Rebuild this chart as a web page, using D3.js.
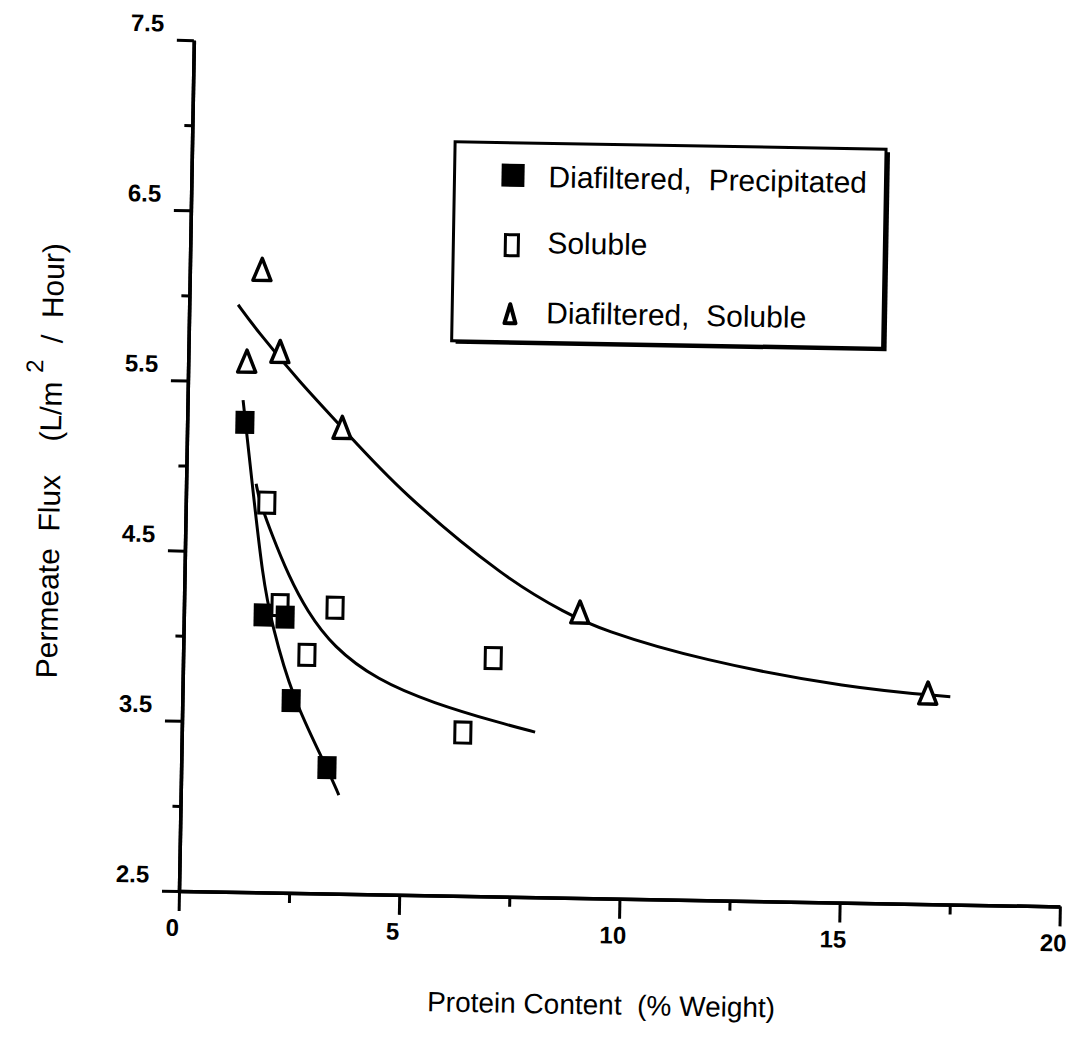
<!DOCTYPE html>
<html>
<head>
<meta charset="utf-8">
<script src="https://cdn.jsdelivr.net/npm/d3@7"></script>
<style>
  body { margin: 0; background: #fff; }
  text { font-family: "Liberation Sans", Arial, sans-serif; fill: #000; }
</style>
</head>
<body>
<div id="chart"></div>
<script>
// data
let precipX = [1.31, 1.80, 2.30, 2.47, 3.31];
let precipY = [5.26, 4.13, 4.12, 3.63, 3.24];
let solubleX = [1.84, 2.18, 2.81, 3.43, 6.38, 7.04];
let solubleY = [4.79, 4.19, 3.90, 4.18, 3.46, 3.90];
let diaSolX = [1.33, 1.64, 2.08, 3.52, 8.99, 16.92];
let diaSolY = [5.62, 6.16, 5.68, 5.24, 4.18, 3.74];

// hand drawn fit curves
let precipFitX = [1.26, 1.49, 1.78, 2.00, 2.49, 3.31, 3.59];
let precipFitY = [5.39, 4.92, 4.34, 4.08, 3.65, 3.24, 3.08];
let solubleFitX = [1.59, 1.66, 1.97, 2.37, 2.79, 3.40, 4.41, 5.69, 7.22, 8.02];
let solubleFitY = [4.90, 4.81, 4.60, 4.36, 4.16, 3.95, 3.76, 3.63, 3.52, 3.47];
let diaSolFitX = [1.11, 1.55, 2.54, 3.52, 4.86, 7.32, 8.70, 9.45, 11.74, 15.15, 17.43];
let diaSolFitY = [5.95, 5.80, 5.50, 5.24, 4.87, 4.36, 4.17, 4.08, 3.91, 3.76, 3.72];

let xMajor = [0, 5, 10, 15, 20];
let xMinor = [2.5, 7.5, 12.5, 17.5];
let yMajor = [2.5, 3.5, 4.5, 5.5, 6.5, 7.5];
let yMinor = [3, 4, 5, 6, 7];
let legendLabels = ["Diafiltered,  Precipitated", "Soluble", "Diafiltered,  Soluble"];

let svgWidth = 1068;
let svgHeight = 1043;

let svg = d3.select("#chart")
  .append("svg")
  .attr("width", svgWidth)
  .attr("height", svgHeight);

// the scan is skewed by about one degree
let g = svg.append("g")
  .attr("transform", "rotate(1.0, 179, 891)");

let x = d3.scaleLinear().domain([0, 20]).range([179, 1060]);
let y = d3.scaleLinear().domain([2.5, 7.5]).range([891, 40]);

// axes
let yAxisMajor = g.append("g")
  .attr("transform", `translate(${x(0)},0)`)
  .call(d3.axisLeft(y).tickValues(yMajor).tickSize(17).tickSizeOuter(0).tickFormat(""));
let yAxisMinor = g.append("g")
  .attr("transform", `translate(${x(0)},0)`)
  .call(d3.axisLeft(y).tickValues(yMinor).tickSize(8).tickSizeOuter(0).tickFormat(""));
let xAxisMajor = g.append("g")
  .attr("transform", `translate(0,${y(2.5)})`)
  .call(d3.axisBottom(x).tickValues(xMajor).tickSize(20).tickSizeOuter(0).tickFormat(""));
let xAxisMinor = g.append("g")
  .attr("transform", `translate(0,${y(2.5)})`)
  .call(d3.axisBottom(x).tickValues(xMinor).tickSize(10).tickSizeOuter(0).tickFormat(""));

[yAxisMajor, yAxisMinor, xAxisMajor, xAxisMinor].forEach(a => {
  a.select(".domain").attr("stroke", "#000").attr("stroke-width", 3.5);
  a.selectAll(".tick line").attr("stroke", "#000").attr("stroke-width", 3);
});

// tick labels
g.selectAll(".ylab")
  .data(yMajor)
  .enter()
  .append("text")
  .attr("class", "ylab")
  .attr("x", x(0) - 30)
  .attr("y", d => y(d) - 8)
  .attr("text-anchor", "end")
  .style("font-size", "24px")
  .style("font-weight", "bold")
  .text(d => d.toFixed(1));

g.selectAll(".xlab")
  .data(xMajor)
  .enter()
  .append("text")
  .attr("class", "xlab")
  .attr("x", d => x(d) - 6)
  .attr("y", y(2.5) + 45)
  .attr("text-anchor", "middle")
  .style("font-size", "24px")
  .style("font-weight", "bold")
  .text(d => d);

// axis titles
g.append("text")
  .attr("x", 603)
  .attr("y", 1007)
  .attr("text-anchor", "middle")
  .style("font-size", "28px")
  .style("white-space", "pre")
  .text("Protein Content  (% Weight)");

let yTitle = g.append("text")
  .attr("transform", "translate(53,463) rotate(-90)")
  .attr("text-anchor", "middle")
  .style("font-size", "30px")
  .style("white-space", "pre");
yTitle.append("tspan").text("Permeate  Flux    (L/m ");
yTitle.append("tspan").attr("dy", -19).style("font-size", "24px").text("2");
yTitle.append("tspan").attr("dy", 19).text("  /  Hour)");

// fitted curves
let line = d3.line()
  .x(d => x(d[0]))
  .y(d => y(d[1]))
  .curve(d3.curveBasis);

let fits = [
  d3.zip(precipFitX, precipFitY),
  d3.zip(solubleFitX, solubleFitY),
  d3.zip(diaSolFitX, diaSolFitY)
];
g.selectAll(".fit")
  .data(fits)
  .enter()
  .append("path")
  .attr("class", "fit")
  .attr("d", line)
  .attr("fill", "none")
  .attr("stroke", "#000")
  .attr("stroke-width", 3);

// markers
let triPath = (w, h) => `M0,${-h / 2}L${w / 2},${h / 2}L${-w / 2},${h / 2}Z`;

g.selectAll(".open")
  .data(d3.zip(solubleX, solubleY))
  .enter()
  .append("rect")
  .attr("x", d => x(d[0]) - 8)
  .attr("y", d => y(d[1]) - 10.5)
  .attr("width", 16)
  .attr("height", 21)
  .attr("fill", "#fff")
  .attr("stroke", "#000")
  .attr("stroke-width", 3);

g.selectAll(".filled")
  .data(d3.zip(precipX, precipY))
  .enter()
  .append("rect")
  .attr("x", d => x(d[0]) - 9.5)
  .attr("y", d => y(d[1]) - 11.5)
  .attr("width", 19)
  .attr("height", 23)
  .attr("fill", "#000");

g.selectAll(".tri")
  .data(d3.zip(diaSolX, diaSolY))
  .enter()
  .append("path")
  .attr("transform", d => `translate(${x(d[0])},${y(d[1])})`)
  .attr("d", triPath(18, 22))
  .attr("fill", "#fff")
  .attr("stroke", "#000")
  .attr("stroke-width", 3.5)
  .attr("stroke-linejoin", "round");

// legend
let legend = g.append("g");
legend.append("rect")
  .attr("x", 446).attr("y", 140).attr("width", 431).attr("height", 199)
  .attr("fill", "#000");
legend.append("rect")
  .attr("x", 442).attr("y", 137).attr("width", 431).attr("height", 199)
  .attr("fill", "#fff").attr("stroke", "#000").attr("stroke-width", 3);

let rowY = [181, 247, 317];
legend.selectAll(".ltext")
  .data(legendLabels)
  .enter()
  .append("text")
  .attr("x", 536)
  .attr("y", (d, i) => rowY[i])
  .style("font-size", "30px")
  .style("white-space", "pre")
  .text(d => d);

legend.append("rect")
  .attr("x", 489).attr("y", rowY[0] - 23).attr("width", 23).attr("height", 23)
  .attr("fill", "#000");
legend.append("rect")
  .attr("x", 494).attr("y", rowY[1] - 18).attr("width", 13).attr("height", 21)
  .attr("fill", "#fff").attr("stroke", "#000").attr("stroke-width", 3);
legend.append("path")
  .attr("transform", `translate(500,${rowY[2] - 9})`)
  .attr("d", triPath(11, 19))
  .attr("fill", "#fff").attr("stroke", "#000").attr("stroke-width", 4)
  .attr("stroke-linejoin", "round");
</script>
</body>
</html>
